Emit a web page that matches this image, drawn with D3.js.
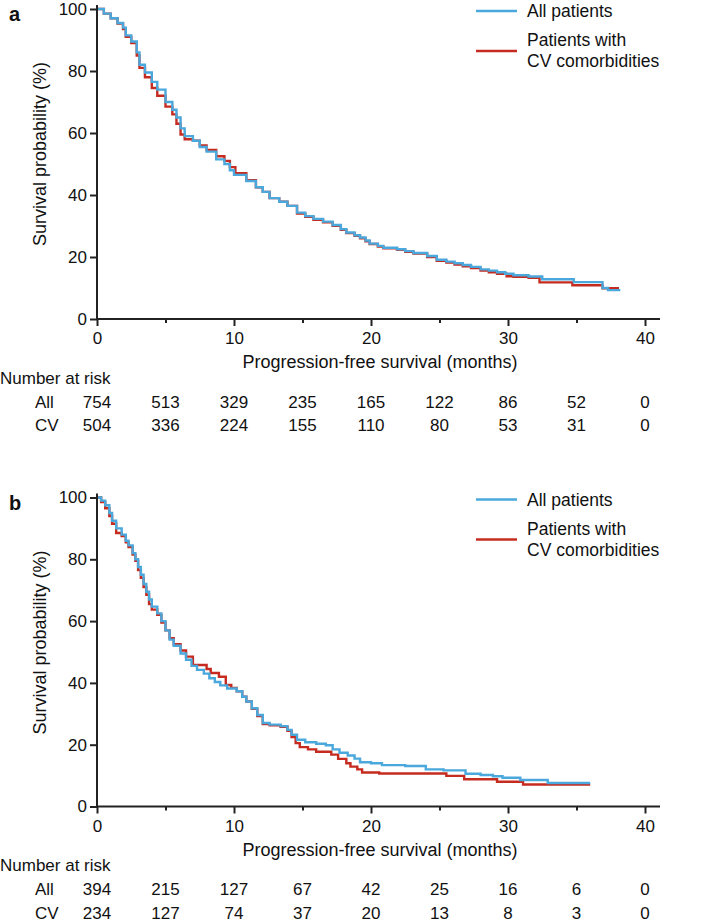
<!DOCTYPE html>
<html>
<head>
<meta charset="utf-8">
<script src="https://cdn.jsdelivr.net/npm/d3@7"></script>
<style>
  html, body { margin: 0; padding: 0; background: #fff; }
  svg { display: block; font-family: "Liberation Sans", Arial, Helvetica, sans-serif; }
</style>
</head>
<body>
<div id="chart"></div>
<script>
// ---- data (months, survival %) ----
const monthsA_all = [0, 0.5, 1.0, 1.5, 1.9, 2.1, 2.5, 2.9, 3.1, 3.5, 4.0, 4.4, 5.0, 5.5, 5.8, 6.1, 6.4, 7.0, 7.5, 8.0, 8.7, 9.3, 9.7, 10.0, 10.9, 11.6, 12.1, 12.6, 13.3, 13.9, 14.6, 15.2, 15.8, 16.5, 17.2, 17.8, 18.2, 18.8, 19.2, 19.6, 19.9, 20.5, 20.9, 21.9, 22.5, 23.1, 24.1, 24.8, 25.5, 26.1, 26.7, 27.3, 28.0, 28.6, 29.2, 29.8, 30.4, 31.5, 32.5, 34.8, 36.9, 37.3, 38.2];
const survA_all   = [100, 98.5, 97, 95.5, 94, 91.5, 89.5, 86, 82, 79.5, 76.5, 74, 70, 67.5, 65, 61.5, 59, 57.5, 55.5, 54, 51.5, 50, 48, 46.5, 44.5, 42.5, 41, 39, 37.8, 36.5, 34.3, 33.2, 32.3, 31.4, 30.3, 29.0, 27.9, 27.0, 26.3, 25.3, 24.3, 23.6, 23.0, 22.5, 21.9, 21.3, 20.3, 19.1, 18.5, 18.0, 17.4, 16.8, 16.0, 15.6, 15.1, 14.6, 14.1, 13.7, 12.8, 11.9, 10.0, 9.3, 9.3];

const monthsA_cv = [0, 0.5, 1.0, 1.5, 1.9, 2.1, 2.5, 2.9, 3.1, 3.5, 4.0, 4.4, 5.0, 5.5, 5.8, 6.1, 6.4, 7.0, 7.5, 8.0, 8.7, 9.3, 9.7, 10.1, 10.9, 11.6, 12.1, 12.6, 13.3, 13.9, 14.6, 15.2, 15.8, 16.5, 17.2, 17.8, 18.2, 18.8, 19.2, 19.6, 19.9, 20.5, 20.9, 21.9, 22.5, 23.1, 24.1, 24.8, 25.5, 26.1, 26.7, 27.3, 28.0, 28.6, 29.2, 29.9, 30.4, 31.5, 32.3, 34.7, 36.9, 38.1];
const survA_cv   = [100, 98.5, 97, 95.3, 93.5, 91, 89, 85, 81, 78, 74.5, 72, 68.5, 66, 63, 59.5, 58, 57.5, 56, 54.5, 52.5, 51, 49, 47, 44.8, 42.5, 41, 39, 37.8, 36.5, 34, 33, 32, 31.2, 30.1, 28.8, 27.7, 26.8, 26.0, 25.1, 24.2, 23.4, 22.8, 22.3, 21.7, 21.1, 20.0, 18.8, 18.2, 17.6, 17.0, 16.4, 15.6, 15.1, 14.6, 13.8, 13.6, 13.3, 11.8, 10.9, 9.9, 9.9];

const monthsB_all = [0, 0.3, 0.6, 0.9, 1.1, 1.4, 1.8, 2.1, 2.3, 2.6, 2.8, 3.0, 3.2, 3.4, 3.6, 3.8, 4.0, 4.4, 4.7, 5.0, 5.3, 5.6, 6.1, 6.5, 6.9, 7.3, 7.8, 8.2, 8.6, 9.0, 9.5, 10.2, 10.6, 10.9, 11.3, 11.7, 12.1, 12.6, 13.4, 13.9, 14.2, 14.6, 15.2, 16.0, 16.7, 17.2, 17.7, 18.3, 18.8, 19.2, 20.0, 20.8, 22.5, 24.0, 25.3, 26.9, 28.0, 28.9, 29.6, 30.9, 32.9, 36.0];
const survB_all   = [100, 99, 97.5, 95, 92.5, 90, 88, 86, 84.5, 82, 80, 77.5, 75, 72, 69.5, 67, 64.7, 62.5, 60, 57, 54, 52, 49.5, 47.5, 45.5, 44.2, 43.0, 41.5, 40.3, 39.2, 38.2, 37.3, 35.5, 34, 31.8, 29.6, 27, 26.5, 26, 24.8, 23.2, 21.6, 20.8, 20.3, 19.8, 18.5, 17.4, 16.5, 15.5, 14.3, 14.0, 13.4, 13.1, 12.0, 11.7, 10.6, 10.2, 9.8, 9.3, 8.6, 7.6, 7.6];

const monthsB_cv = [0, 0.3, 0.6, 0.9, 1.1, 1.4, 1.8, 2.1, 2.3, 2.6, 2.8, 3.0, 3.2, 3.4, 3.6, 3.8, 4.0, 4.4, 4.7, 5.0, 5.3, 5.6, 6.1, 6.5, 7.0, 8.0, 8.3, 8.9, 9.4, 9.8, 10.2, 10.6, 10.9, 11.3, 11.7, 12.1, 12.6, 13.4, 13.9, 14.2, 14.5, 14.8, 15.4, 16.0, 17.1, 17.6, 18.2, 18.5, 19.0, 19.35, 20.6, 25.5, 26.8, 29.2, 31.1, 36.0];
const survB_cv   = [100, 98.5, 96.5, 94, 91.5, 88.5, 87.5, 85.5, 84, 81.5, 79.5, 76.5, 74, 71, 68.5, 65.5, 63.7, 62, 59.5, 57, 54.5, 52.5, 50.5, 48.5, 45.8, 44.5, 43.2, 42, 39.3, 38.4, 37.3, 35.5, 34, 31.6, 29.3, 26.7, 26.3, 25.8, 24.5, 22.5, 20.5, 19.2, 18.5, 17.7, 16.8, 15.4, 14.0, 12.9, 12.0, 11.0, 10.7, 9.9, 8.8, 8.0, 7.1, 7.1];

// number at risk table
const riskMonths = [0, 5, 10, 15, 20, 25, 30, 35, 40];
const riskA_all = [754, 513, 329, 235, 165, 122, 86, 52, 0];
const riskA_cv  = [504, 336, 224, 155, 110, 80, 53, 31, 0];
const riskB_all = [394, 215, 127, 67, 42, 25, 16, 6, 0];
const riskB_cv  = [234, 127, 74, 37, 20, 13, 8, 3, 0];

const xMajorTicks = [0, 10, 20, 30, 40];
const xMinorTicks = [5, 15, 25, 35];
const yTicks = [0, 20, 40, 60, 80, 100];
const seriesNames = ["All patients", "Patients with|CV comorbidities"];
const rowLabels = ["All", "CV"];

const blue = "#4aa8dc";
const red = "#c62b20";
const ink = "#222";

const W = 709, H = 924;
const svg = d3.select("#chart").append("svg").attr("width", W).attr("height", H);

const x = d3.scaleLinear().domain([0, 40]).range([97, 645]);

function panel(label, top, bottom, allT, allS, cvT, cvS, riskAll, riskCv) {
  const y = d3.scaleLinear().domain([0, 100]).range([bottom, top]);
  const g = svg.append("g");

  // panel letter
  g.append("text").attr("x", 9).attr("y", top + 12)
    .attr("font-size", 20).attr("font-weight", "bold").attr("fill", "#111").text(label);

  // curves (red under blue)
  const line = d3.line().x(d => x(d[0])).y(d => y(d[1])).curve(d3.curveStepAfter);
  g.append("path").datum(d3.zip(cvT, cvS)).attr("d", line)
    .attr("fill", "none").attr("stroke", red).attr("stroke-width", 2.4);
  g.append("path").datum(d3.zip(allT, allS)).attr("d", line)
    .attr("fill", "none").attr("stroke", blue).attr("stroke-width", 2.4);

  // y axis
  const yAx = g.append("g").attr("transform", `translate(${x(0)},0)`)
    .call(d3.axisLeft(y).tickValues(yTicks).tickSize(7).tickPadding(3));
  yAx.select(".domain").remove();
  yAx.selectAll("line").attr("stroke", ink).attr("stroke-width", 2);
  yAx.selectAll("text").attr("font-size", 17).attr("fill", "#111")
    .style("font-family", "'Liberation Sans', Arial, sans-serif");

  // x axis, major and minor ticks
  const xAx = g.append("g").attr("transform", `translate(0,${bottom})`)
    .call(d3.axisBottom(x).tickValues(xMajorTicks).tickSize(7).tickPadding(6));
  xAx.select(".domain").remove();
  xAx.selectAll("line").attr("stroke", ink).attr("stroke-width", 2);
  xAx.selectAll("text").attr("font-size", 17).attr("fill", "#111")
    .style("font-family", "'Liberation Sans', Arial, sans-serif");
  const xMin = g.append("g").attr("transform", `translate(0,${bottom})`)
    .call(d3.axisBottom(x).tickValues(xMinorTicks).tickSize(4).tickFormat(""));
  xMin.select(".domain").remove();
  xMin.selectAll("line").attr("stroke", ink).attr("stroke-width", 2);

  // axis lines
  g.append("line").attr("x1", x(0)).attr("x2", 660).attr("y1", bottom).attr("y2", bottom)
    .attr("stroke", ink).attr("stroke-width", 2);
  g.append("line").attr("x1", x(0)).attr("x2", x(0)).attr("y1", bottom + 1).attr("y2", top - 4)
    .attr("stroke", ink).attr("stroke-width", 2);

  // axis titles
  g.append("text").attr("transform", `translate(40,${top + 145}) rotate(-90)`)
    .attr("text-anchor", "middle").attr("dy", "0.35em").attr("font-size", 18).attr("fill", "#111")
    .text("Survival probability (%)");
  g.append("text").attr("x", 380).attr("y", bottom + 43).attr("dy", "0.35em")
    .attr("text-anchor", "middle").attr("font-size", 18).attr("fill", "#111")
    .text("Progression-free survival (months)");

  // legend
  const lg = g.append("g").attr("font-size", 17.5).attr("fill", "#111");
  const ly = top + 2;
  lg.append("line").attr("x1", 476).attr("x2", 517).attr("y1", ly).attr("y2", ly)
    .attr("stroke", blue).attr("stroke-width", 2.4);
  lg.append("text").attr("x", 527).attr("y", ly).attr("dy", "0.35em").text(seriesNames[0]);
  lg.append("line").attr("x1", 476).attr("x2", 517).attr("y1", ly + 40).attr("y2", ly + 40)
    .attr("stroke", red).attr("stroke-width", 2.4);
  seriesNames[1].split("|").forEach((s, i) => {
    lg.append("text").attr("x", 527).attr("y", ly + 29 + i * 21).attr("dy", "0.35em").text(s);
  });

  // number at risk
  const rt = g.append("g").attr("font-size", 17).attr("fill", "#111");
  rt.append("text").attr("x", 0).attr("y", bottom + 59).attr("dy", "0.35em").text("Number at risk");
  [riskAll, riskCv].forEach((row, r) => {
    const yy = bottom + 83 + r * 23.3;
    rt.append("text").attr("x", 35).attr("y", yy).attr("dy", "0.35em").text(rowLabels[r]);
    rt.selectAll(null).data(row).join("text")
      .attr("x", (d, i) => x(riskMonths[i])).attr("y", yy).attr("dy", "0.35em")
      .attr("text-anchor", "middle").text(d => d);
  });
}

panel("a", 9, 319, monthsA_all, survA_all, monthsA_cv, survA_cv, riskA_all, riskA_cv);
panel("b", 497.5, 806.5, monthsB_all, survB_all, monthsB_cv, survB_cv, riskB_all, riskB_cv);
</script>
</body>
</html>
